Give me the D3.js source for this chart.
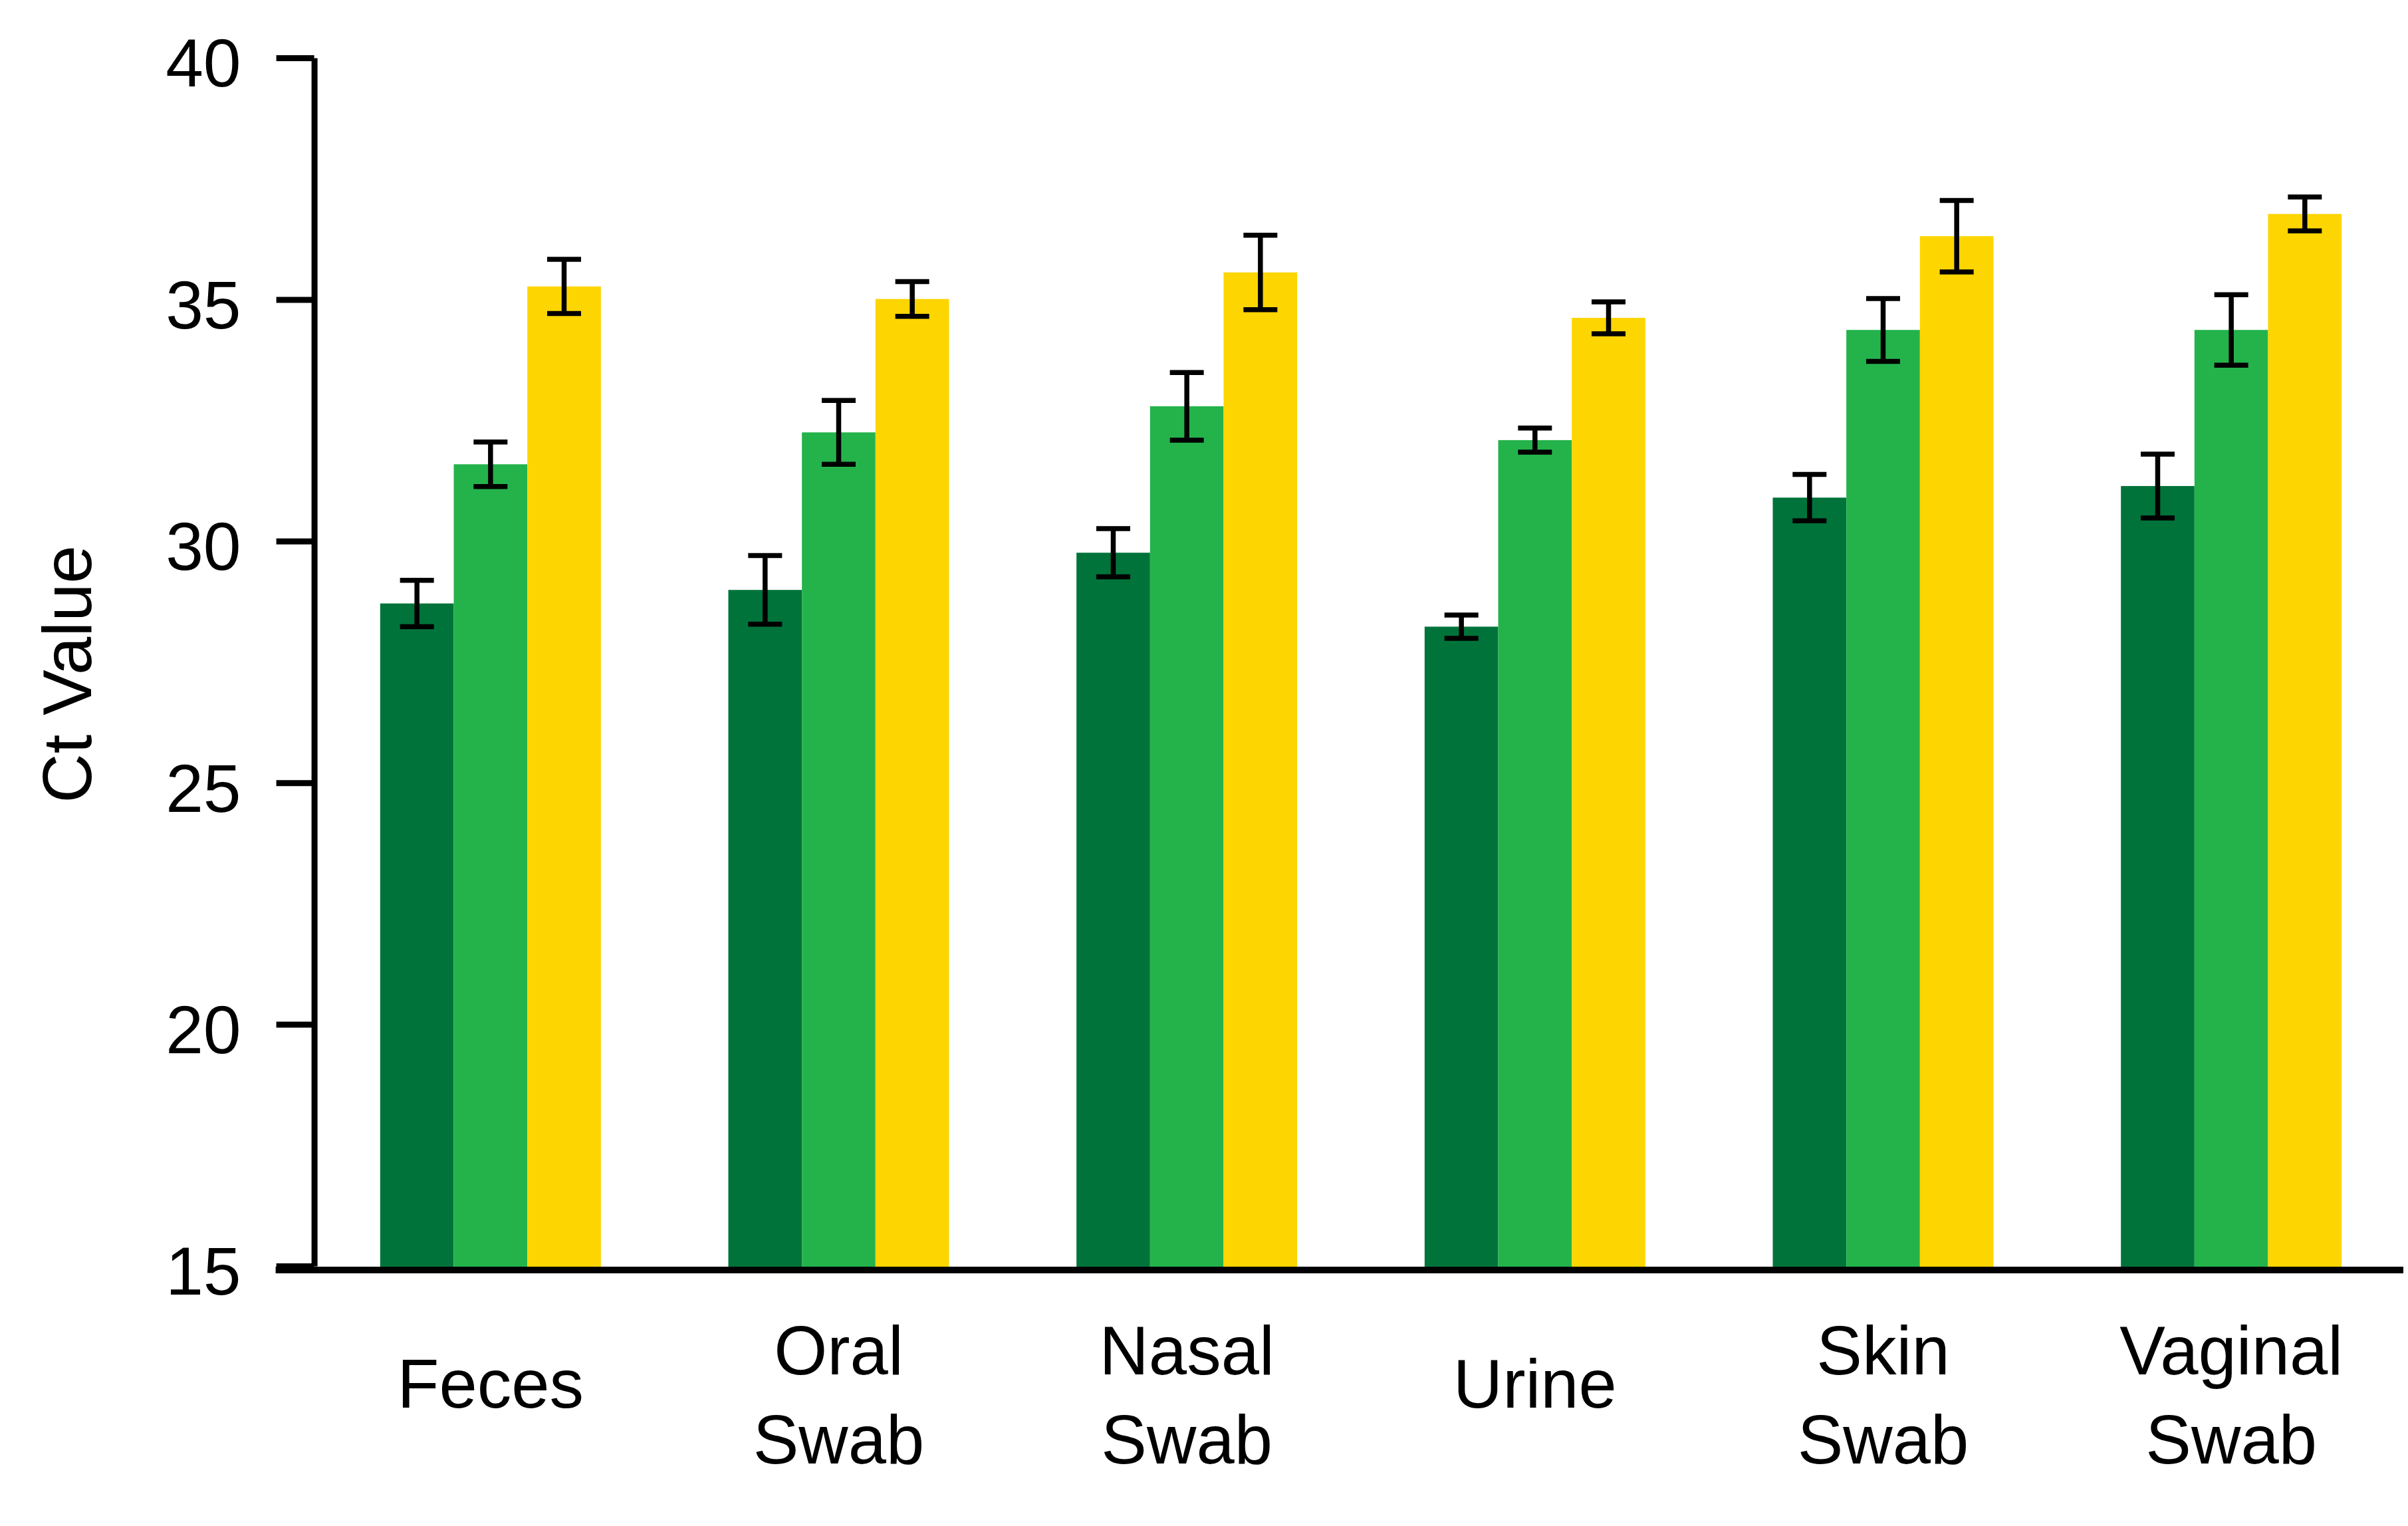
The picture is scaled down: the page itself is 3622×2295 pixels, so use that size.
<!DOCTYPE html>
<html>
<head>
<meta charset="utf-8">
<script src="https://cdn.jsdelivr.net/npm/d3@7"></script>
<style>
  body { margin: 0; background: #fff; }
  text { font-family: "Liberation Sans", Arial, sans-serif; fill: #000; }
</style>
</head>
<body>
<div id="chart"></div>
<script>
// data
const categories = ["Feces", "Oral Swab", "Nasal Swab", "Urine", "Skin Swab", "Vaginal Swab"];
const labelLines = [["Feces"], ["Oral", "Swab"], ["Nasal", "Swab"], ["Urine"], ["Skin", "Swab"], ["Vaginal", "Swab"]];
const series = ["Series 1", "Series 2", "Series 3"];
const seriesColors = ["#00733a", "#24b34b", "#fdd500"];
const means1 = [28.71, 28.99, 29.76, 28.23, 30.90, 31.14];
const means2 = [31.59, 32.25, 32.79, 32.09, 34.37, 34.37];
const means3 = [35.27, 35.01, 35.56, 34.62, 36.31, 36.77];
const errs1 = [0.48, 0.71, 0.50, 0.24, 0.48, 0.66];
const errs2 = [0.46, 0.66, 0.70, 0.25, 0.65, 0.73];
const errs3 = [0.56, 0.36, 0.77, 0.33, 0.74, 0.35];
const yTicks = [15, 20, 25, 30, 35, 40];

const means = [means1, means2, means3];
const errs = [errs1, errs2, errs3];

const rows = [];
categories.forEach((c, i) => {
  series.forEach((s, j) => {
    rows.push({cat: c, ser: s, mean: means[j][i], err: errs[j][i]});
  });
});

const width = 3622, height = 2295;
const axisX = 472.6;
const tickLen = 57;

const svg = d3.select("#chart")
  .append("svg")
    .attr("width", width)
    .attr("height", height);

const y = d3.scaleLinear()
  .domain([15, 40])
  .range([1904, 87]);

const x = d3.scaleBand()
  .domain(categories)
  .range([476, 3618])
  .paddingInner(0.366)
  .paddingOuter(0.183);

const xs = d3.scaleBand()
  .domain(series)
  .range([0, x.bandwidth()])
  .padding(0);

const color = d3.scaleOrdinal().domain(series).range(seriesColors);

// bars
svg.append("g")
  .selectAll("rect")
  .data(rows)
  .join("rect")
    .attr("x", d => x(d.cat) + xs(d.ser))
    .attr("y", d => y(d.mean))
    .attr("width", xs.bandwidth())
    .attr("height", d => y(15) - y(d.mean) + 4)
    .attr("fill", d => color(d.ser));

// error bars
const capW = 51;
const eb = svg.append("g")
  .attr("stroke", "#000")
  .attr("stroke-width", 7.5)
  .selectAll("g")
  .data(rows)
  .join("g")
    .attr("transform", d => `translate(${x(d.cat) + xs(d.ser) + xs.bandwidth() / 2},0)`);

eb.append("line")
  .attr("y1", d => y(d.mean - d.err))
  .attr("y2", d => y(d.mean + d.err));
eb.append("line")
  .attr("x1", -capW / 2).attr("x2", capW / 2)
  .attr("y1", d => y(d.mean + d.err)).attr("y2", d => y(d.mean + d.err));
eb.append("line")
  .attr("x1", -capW / 2).attr("x2", capW / 2)
  .attr("y1", d => y(d.mean - d.err)).attr("y2", d => y(d.mean - d.err));

// y axis
const yAxis = svg.append("g")
  .attr("transform", `translate(${axisX},0)`)
  .call(d3.axisLeft(y)
    .tickValues(yTicks)
    .tickSize(tickLen)
    .tickSizeOuter(0)
    .tickPadding(53)
    .tickFormat(d3.format("d")));

yAxis.select(".domain").attr("stroke", "#000").attr("stroke-width", 9);
yAxis.selectAll(".tick line").attr("stroke", "#000").attr("stroke-width", 9);
yAxis.selectAll(".tick text")
  .attr("font-size", 102)
  .attr("dy", "0.42em")
  .attr("font-family", "'Liberation Sans', Arial, sans-serif");

// x axis line
svg.append("line")
  .attr("x1", axisX - tickLen - 1)
  .attr("x2", 3615)
  .attr("y1", y(15) + 6)
  .attr("y2", y(15) + 6)
  .attr("stroke", "#000")
  .attr("stroke-width", 10);

// category labels
const lab = svg.append("g")
  .selectAll("text")
  .data(categories)
  .join("text")
    .attr("text-anchor", "middle")
    .attr("font-size", 103)
    .attr("x", d => x(d) + x.bandwidth() / 2)
    .attr("y", (d, i) => labelLines[i].length > 1 ? 2067 : 2117);

lab.selectAll("tspan")
  .data((d, i) => labelLines[i])
  .join("tspan")
    .attr("x", function() { return d3.select(this.parentNode).attr("x"); })
    .attr("dy", (d, k) => k === 0 ? 0 : 134)
    .text(d => d);

// y title
svg.append("text")
  .attr("transform", "translate(137,1014) rotate(-90)")
  .attr("text-anchor", "middle")
  .attr("font-size", 103)
  .text("Ct Value");
</script>
</body>
</html>
